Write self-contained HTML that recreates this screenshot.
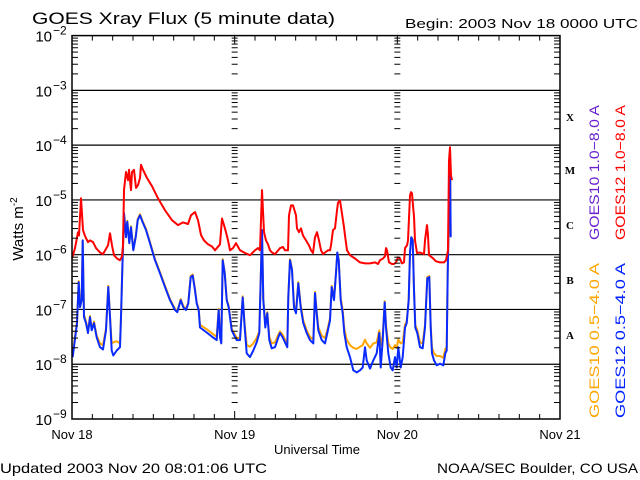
<!DOCTYPE html>
<html><head><meta charset="utf-8"><style>
html,body{margin:0;padding:0;background:#fff;}
svg{display:block;font-family:"Liberation Sans",sans-serif;}
</style></head><body>
<svg id="chart" width="640" height="480" viewBox="0 0 640 480" xmlns="http://www.w3.org/2000/svg">
<rect x="0" y="0" width="640" height="480" fill="#fff"/>
<text x="32" y="24" font-size="17" textLength="303" lengthAdjust="spacingAndGlyphs">GOES Xray Flux (5 minute data)</text>
<text x="405" y="28" font-size="13" textLength="233" lengthAdjust="spacingAndGlyphs">Begin:  2003 Nov 18 0000 UTC</text>
<g id="grid"></g>
<g id="series"></g>
<g id="axes"></g>
<text x="317" y="454" font-size="13" text-anchor="middle">Universal Time</text>
<text transform="translate(23,229) rotate(-90)" font-size="15" text-anchor="middle">Watts m<tspan dy="-6" font-size="10">-2</tspan></text>
<text x="0" y="473" font-size="14" textLength="267" lengthAdjust="spacingAndGlyphs">Updated 2003 Nov 20 08:01:06 UTC</text>
<text x="437" y="473" font-size="14" textLength="201" lengthAdjust="spacingAndGlyphs">NOAA/SEC Boulder, CO USA</text>
<g id="legend">
<text transform="translate(599,240) rotate(-90)" font-size="14" fill="#6a1fd0" textLength="135" lengthAdjust="spacingAndGlyphs">GOES10 1.0−8.0 A</text>
<text transform="translate(625,240) rotate(-90)" font-size="14" fill="#ff0000" textLength="135" lengthAdjust="spacingAndGlyphs">GOES12 1.0−8.0 A</text>
<text transform="translate(599,418) rotate(-90)" font-size="14" fill="#ffa500" textLength="155" lengthAdjust="spacingAndGlyphs">GOES10 0.5−4.0 A</text>
<text transform="translate(625,418) rotate(-90)" font-size="14" fill="#0022ff" textLength="155" lengthAdjust="spacingAndGlyphs">GOES12 0.5−4.0 A</text>
</g>
<g font-family="'Liberation Serif',serif" font-weight="bold" font-size="11" text-anchor="middle">
<text x="570" y="121">X</text>
<text x="570" y="174">M</text>
<text x="570" y="229">C</text>
<text x="570" y="284">B</text>
<text x="570" y="339">A</text>
</g>
</svg>
<script>
// ---- data (time in hours since 2003 Nov 18 00:00 UTC, value = log10 flux W/m^2) ----
const dayLabels = ["Nov 18","Nov 19","Nov 20","Nov 21"];
const decadeExps = [-2,-3,-4,-5,-6,-7,-8,-9];

const redT = [0,0.44,0.89,1.03,1.33,1.62,1.92,2.36,2.66,3.10,3.54,4.13,4.57,5.31,5.61,5.90,6.20,6.64,7.08,7.38,7.52,7.67,7.97,8.26,8.41,8.70,8.85,9.15,9.44,9.74,10.03,10.18,10.48,11.07,11.80,12.69,13.72,14.75,15.64,16.38,17.11,17.56,18.15,18.59,19.03,19.48,20.07,20.66,21.10,21.84,22.13,22.43,22.72,23.02,23.31,23.75,24.20,24.79,25.52,26.26,27.00,27.44,27.74,28.03,28.33,28.62,28.92,29.21,29.51,29.95,30.69,31.13,31.43,31.87,32.02,32.31,32.61,33.05,33.20,33.49,33.79,34.08,34.52,34.97,35.26,35.56,35.85,36.15,36.44,36.74,37.03,37.33,37.77,38.06,38.21,38.51,38.80,39.10,39.25,39.54,39.84,40.13,40.28,40.57,41.02,41.75,42.49,43.23,43.97,44.70,45.15,45.44,45.88,46.18,46.33,46.47,46.77,47.21,47.51,47.80,48.10,48.39,48.69,48.98,49.13,49.42,49.57,49.87,50.02,50.16,50.31,50.46,50.61,50.90,51.34,51.93,52.08,52.38,52.52,52.67,53.11,53.70,54.29,54.88,55.18,55.47,55.62,55.77,55.92,56.06];
const redV = [-6.07,-5.88,-5.59,-5.65,-4.97,-5.55,-5.66,-5.77,-5.74,-5.77,-5.88,-5.96,-5.99,-5.83,-5.61,-5.83,-6.01,-6.07,-6.10,-6.03,-5.83,-4.82,-4.49,-4.64,-4.45,-4.82,-4.49,-4.45,-4.78,-4.73,-4.60,-4.36,-4.45,-4.60,-4.75,-4.97,-5.19,-5.37,-5.46,-5.41,-5.44,-5.28,-5.22,-5.37,-5.64,-5.74,-5.81,-5.85,-5.92,-5.81,-5.34,-5.46,-5.59,-5.74,-5.92,-5.88,-5.79,-5.92,-5.97,-6.01,-5.92,-5.88,-5.92,-4.82,-5.59,-5.74,-5.81,-5.92,-5.96,-5.99,-5.88,-5.86,-5.92,-5.92,-5.28,-5.10,-5.10,-5.28,-5.52,-5.59,-5.52,-5.65,-5.74,-5.83,-5.92,-5.97,-5.68,-5.59,-5.74,-5.92,-5.99,-5.96,-5.92,-5.92,-5.83,-5.55,-5.52,-5.19,-5.05,-5.01,-5.25,-5.50,-5.65,-5.92,-6.01,-6.07,-6.14,-6.16,-6.16,-6.14,-6.17,-6.10,-6.07,-6.03,-5.88,-5.92,-6.14,-6.17,-6.17,-6.14,-6.05,-6.07,-6.16,-6.14,-5.88,-5.83,-5.74,-4.92,-4.86,-4.88,-5.10,-5.30,-5.74,-5.97,-5.96,-5.99,-5.74,-5.46,-5.65,-6.01,-6.05,-6.12,-6.14,-6.14,-6.10,-5.92,-4.28,-4.04,-4.55,-4.64];

const blueT = [0.10,0.74,0.99,1.18,1.43,1.58,1.77,2.07,2.36,2.66,2.91,3.25,3.64,4.13,4.57,5.02,5.36,5.61,5.86,6.09,6.59,7.08,7.23,7.42,7.67,7.97,8.16,8.45,8.70,9.04,9.40,9.69,10.03,10.43,10.92,11.51,12.25,12.98,13.72,14.46,15.20,15.54,16.04,16.42,16.82,17.16,17.51,17.81,18.15,18.40,18.70,18.88,19.87,20.80,21.35,21.64,21.84,22.03,22.23,22.53,22.82,23.12,23.56,23.75,24.30,24.79,25.18,25.48,25.77,26.26,26.75,27.25,27.64,27.84,28.03,28.22,28.52,28.81,29.11,29.46,29.95,30.44,30.69,31.09,31.43,31.76,31.91,32.16,32.46,32.75,33.05,33.39,33.74,34.13,34.63,35.11,35.60,35.85,36.10,36.34,36.84,37.33,37.67,38.06,38.32,38.65,38.95,39.14,39.35,39.64,39.94,40.17,40.53,41.02,41.50,42.00,42.49,42.89,43.23,43.48,43.97,44.45,44.95,45.34,45.54,45.84,46.13,46.33,46.67,47.02,47.32,47.65,47.91,48.14,48.50,48.79,49.13,49.38,49.68,49.87,50.06,50.27,50.46,50.65,50.94,51.34,51.74,52.08,52.42,52.71,52.92,53.11,53.41,53.81,54.29,54.78,55.08,55.28,55.43,55.62,55.77,55.87];
const blueV = [-7.87,-7.25,-6.50,-6.96,-6.83,-5.74,-7.14,-7.25,-7.43,-7.14,-7.38,-7.25,-7.51,-7.69,-7.73,-7.38,-6.59,-7.14,-7.75,-7.84,-7.75,-7.69,-7.14,-6.28,-5.24,-5.68,-5.40,-5.79,-5.50,-5.92,-5.68,-5.37,-5.28,-5.41,-5.55,-5.79,-6.10,-6.34,-6.59,-6.83,-7.01,-7.05,-6.83,-6.96,-7.01,-6.89,-6.41,-6.38,-6.65,-6.89,-7.01,-7.33,-7.42,-7.51,-7.56,-7.01,-7.51,-7.62,-6.10,-6.34,-6.83,-6.96,-7.38,-7.43,-7.56,-7.56,-6.78,-7.33,-7.80,-7.87,-7.75,-7.60,-7.43,-6.47,-5.55,-6.83,-7.33,-7.07,-7.56,-7.71,-7.69,-7.51,-7.43,-7.51,-7.60,-7.69,-6.78,-6.10,-6.28,-6.96,-7.07,-6.52,-6.96,-7.25,-7.43,-7.56,-7.62,-6.70,-7.07,-7.38,-7.56,-7.62,-7.43,-7.20,-6.59,-6.83,-6.34,-5.96,-6.10,-6.83,-7.07,-7.43,-7.69,-7.87,-8.11,-8.15,-8.11,-8.06,-7.69,-7.93,-8.08,-7.93,-7.80,-7.43,-8.06,-7.56,-6.87,-7.33,-7.80,-8.06,-8.11,-7.87,-8.06,-7.69,-8.06,-7.87,-7.33,-7.25,-6.83,-5.97,-5.68,-5.74,-6.65,-7.33,-7.43,-7.69,-7.71,-7.33,-6.43,-6.41,-7.33,-7.80,-7.93,-8.02,-7.99,-8.02,-7.80,-7.75,-6.34,-5.13,-4.09,-5.68];
const orangeV = [-7.80,-7.22,-6.48,-6.93,-6.80,-5.74,-7.10,-7.22,-7.40,-7.12,-7.35,-7.22,-7.48,-7.62,-7.65,-7.35,-6.57,-7.12,-7.62,-7.60,-7.58,-7.62,-7.12,-6.26,-5.24,-5.66,-5.38,-5.77,-5.48,-5.90,-5.66,-5.35,-5.26,-5.39,-5.53,-5.77,-6.08,-6.32,-6.57,-6.81,-6.99,-7.03,-6.81,-6.94,-6.99,-6.87,-6.39,-6.36,-6.63,-6.87,-6.99,-7.28,-7.36,-7.45,-7.50,-6.99,-7.47,-7.55,-6.08,-6.32,-6.81,-6.94,-7.35,-7.40,-7.52,-7.52,-6.76,-7.28,-7.65,-7.68,-7.62,-7.52,-7.40,-6.45,-5.55,-6.81,-7.28,-7.05,-7.50,-7.62,-7.60,-7.46,-7.40,-7.46,-7.55,-7.62,-6.76,-6.08,-6.26,-6.92,-7.02,-6.50,-6.92,-7.20,-7.38,-7.50,-7.55,-6.68,-7.03,-7.32,-7.48,-7.52,-7.38,-7.16,-6.57,-6.81,-6.32,-5.96,-6.08,-6.79,-7.01,-7.35,-7.55,-7.65,-7.70,-7.72,-7.68,-7.65,-7.55,-7.62,-7.70,-7.62,-7.60,-7.38,-7.65,-7.48,-6.85,-7.28,-7.62,-7.70,-7.72,-7.65,-7.70,-7.55,-7.62,-7.60,-7.28,-7.22,-6.81,-5.96,-5.68,-5.72,-6.62,-7.28,-7.38,-7.60,-7.62,-7.28,-6.41,-6.39,-7.28,-7.70,-7.80,-7.85,-7.85,-7.88,-7.72,-7.70,-6.32,-5.13,-4.09,-5.66];

// ---- axes ----
const X0 = 72, X1 = 560, Y0 = 35.6, Y1 = 419;
const HOURS = 72, LOGTOP = -2, LOGBOT = -9;
function xs(h){ return X0 + (h / HOURS) * (X1 - X0); }
function ys(v){ return Y0 + (LOGTOP - v) / (LOGTOP - LOGBOT) * (Y1 - Y0); }

const NS = "http://www.w3.org/2000/svg";
function mk(tag, attrs, parent){
  const e = document.createElementNS(NS, tag);
  for (const k in attrs) e.setAttribute(k, attrs[k]);
  parent.appendChild(e);
  return e;
}
const grid = document.getElementById("grid");
const axes = document.getElementById("axes");
const series = document.getElementById("series");

decadeExps.forEach(function(ex){
  if (ex === LOGTOP || ex === LOGBOT) return;
  const l = mk("line", {x1:X0, x2:X1, y1:ys(ex), y2:ys(ex), stroke:"#000", "stroke-width":1.2}, grid);
  
  
});

const frame = mk("rect", {x:X0, y:Y0, width:X1-X0, height:Y1-Y0, fill:"none", stroke:"#000", "stroke-width":1.5}, axes);



const dayXs = [0,24,48,72].map(xs);
for (let ex = LOGBOT; ex < LOGTOP; ex++) {
  for (let m = 2; m <= 9; m++) {
    const y = ys(ex + Math.log10(m));
    const t1 = mk("line", {x1:X0, x2:X0+6, y1:y, y2:y, stroke:"#000", "stroke-width":1}, axes);
    
    
    const t2 = mk("line", {x1:X1-6, x2:X1, y1:y, y2:y, stroke:"#000", "stroke-width":1}, axes);
    
    
    [dayXs[1], dayXs[2]].forEach(function(dx){
      const t3 = mk("line", {x1:dx-3, x2:dx+3, y1:y, y2:y, stroke:"#000", "stroke-width":1}, axes);
      
      
    });
  }
}
decadeExps.forEach(function(ex){
  const y = ys(ex);
  const t = mk("text", {x:52, y:y+6, "font-size":15, "text-anchor":"end"}, axes);
  t.textContent = "10";
  
  
  const s = mk("text", {x:53, y:y-1, "font-size":12, "text-anchor":"start"}, axes);
  s.textContent = (ex < 0 ? "\u2212" : "") + Math.abs(ex);
  
  
});
for (let h = 0; h <= HOURS; h += 3) {
  const x = xs(h), len = (h % 24 === 0) ? 8 : 5;
  const b = mk("line", {x1:x, x2:x, y1:Y1, y2:Y1-len, stroke:"#000", "stroke-width":1}, axes);
  
  
  const tp = mk("line", {x1:x, x2:x, y1:Y0, y2:Y0+len, stroke:"#000", "stroke-width":1}, axes);
  
  
}
dayLabels.forEach(function(lab, i){
  const t = mk("text", {x:xs(i*24), y:439, "font-size":13, "text-anchor":"middle"}, axes);
  t.textContent = lab;
  
  
});

function pathFor(T, V){
  return T.map(function(t, i){ return (i ? "L" : "M") + xs(t).toFixed(1) + "," + ys(V[i]).toFixed(1); }).join("");
}
const po = mk("path", {d:pathFor(blueT, orangeV), fill:"none", stroke:"#ffa500", "stroke-width":2, "stroke-linejoin":"round"}, series);


const pb = mk("path", {d:pathFor(blueT, blueV), fill:"none", stroke:"#0a2bff", "stroke-width":2, "stroke-linejoin":"round"}, series);


const pr = mk("path", {d:pathFor(redT, redV), fill:"none", stroke:"#ff0000", "stroke-width":2, "stroke-linejoin":"round"}, series);


</script>
</body></html>
